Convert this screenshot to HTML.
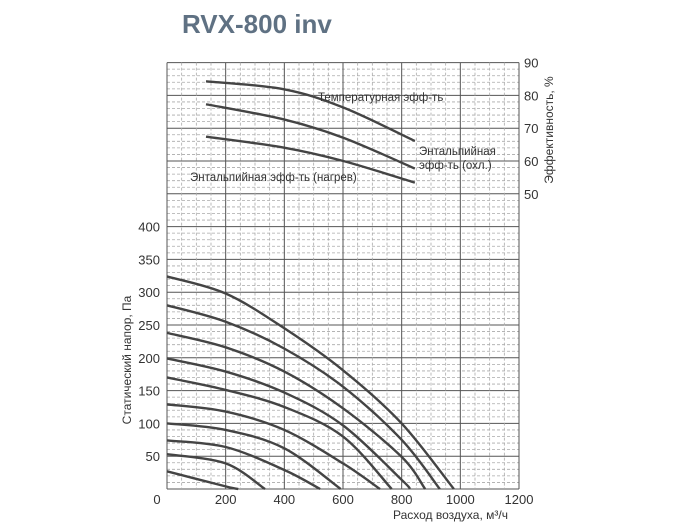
<!DOCTYPE html>
<html><head><meta charset="utf-8"><style>
body{margin:0;background:#fff;width:700px;height:525px;overflow:hidden}
svg{display:block;font-family:"Liberation Sans","DejaVu Sans",sans-serif}
</style></head><body>
<svg id="chart" width="700" height="525" viewBox="0 0 700 525">
<text x="182" y="33" font-size="26" font-weight="bold" fill="#5f7183">RVX-800 inv</text>
<g id="grid"></g>
<g id="curves"></g>
<g id="eff"></g>
<g id="axes"></g>
<text x="318" y="101" font-size="11.5" fill="#333">Температурная эфф-ть</text>
<text x="419" y="155" font-size="11.5" fill="#333">Энтальпийная</text>
<text x="419" y="169" font-size="11.5" fill="#333">эфф-ть (охл.)</text>
<text x="190" y="181" font-size="11.5" fill="#333">Энтальпийная эфф-ть (нагрев)</text>
<text x="393" y="519" font-size="12" fill="#333">Расход воздуха, м³/ч</text>
<text transform="translate(131,360) rotate(-90)" text-anchor="middle" font-size="12" fill="#333">Статический напор, Па</text>
<text transform="translate(553,130) rotate(-90)" text-anchor="middle" font-size="12" fill="#333">Эффективность, %</text>
</svg>
<script>
const xTicks=[0,200,400,600,800,1000,1200];
const yTicks=[50,100,150,200,250,300,350,400];
const y2Ticks=[50,60,70,80,90];
const fanFlows=[
[0,200,400,600,800,978],
[0,200,400,600,800,930],
[0,200,400,600,800,880],
[0,200,400,600,800,828],
[0,200,400,600,766],
[0,200,400,600,726],
[0,200,400,592],
[0,200,400,522],
[0,200,334],
[0,200,243]];
const fanPress=[
[324,298,245,181,100,0],
[280,255,214,156,75,0],
[238,216,179,123,49,0],
[199,179,147,97,14,0],
[170,151,125,80,0],
[129,118,90,39,0],
[100,90,62,0],
[74,64,29,0],
[53,39,0],
[27,4,0]];
const effFlows=[133,397,601,845];
const effTemp=[84.3,81.9,76.3,66.1];
const effCool=[77.3,72.7,67.1,57.7];
const effHeat=[67.4,64.1,60,53.4];

const X0=167,X1=519,Y0=489,PPU=0.656;
const xs=v=>X0+v*(X1-X0)/1200;
const ys=p=>Y0-p*PPU;
const yp=e=>ys(e*5+200);
const NS='http://www.w3.org/2000/svg';
function mk(tag,attrs,parent){const e=document.createElementNS(NS,tag);for(const k in attrs)e.setAttribute(k,attrs[k]);parent.appendChild(e);return e;}
const grid=document.getElementById('grid');
for(let p=0;p<=650;p+=10){const solid=p%50===0;
 const l=mk('line',{x1:X0,x2:X1,y1:ys(p),y2:ys(p),stroke:solid?'#555':'#aaa','stroke-width':solid?1:0.8,'stroke-dasharray':solid?'':'3,2'},grid);
 
 }
for(let f=0;f<=1200;f+=50){const solid=f%200===0;
 const l=mk('line',{x1:xs(f),x2:xs(f),y1:ys(650),y2:Y0,stroke:solid?'#555':'#aaa','stroke-width':solid?1:0.8,'stroke-dasharray':solid?'':'3,2'},grid);
 
 }
function path(pts){let d='M'+pts[0][0]+','+pts[0][1];
 for(let i=0;i<pts.length-1;i++){const p0=pts[i-1]||pts[i],p1=pts[i],p2=pts[i+1],p3=pts[i+2]||p2;
  d+=' C'+(p1[0]+(p2[0]-p0[0])/6)+','+(p1[1]+(p2[1]-p0[1])/6)+' '+(p2[0]-(p3[0]-p1[0])/6)+','+(p2[1]-(p3[1]-p1[1])/6)+' '+p2[0]+','+p2[1];}
 return d;}
const cg=document.getElementById('curves');
fanFlows.forEach((fl,i)=>{const pts=fl.map((f,j)=>[xs(f),ys(fanPress[i][j])]);
 const p=mk('path',{d:path(pts),fill:'none',stroke:'#444','stroke-width':2.4},cg);
 
 });
const eg=document.getElementById('eff');
[[effTemp,'temp-efficiency-curve'],[effCool,'enthalpy-cool-curve'],[effHeat,'enthalpy-heat-curve']].forEach(([arr,n])=>{
 const pts=effFlows.map((f,j)=>[xs(f),yp(arr[j])]);
 const p=mk('path',{d:path(pts),fill:'none',stroke:'#444','stroke-width':2.4},eg);
 
 });
const ax=document.getElementById('axes');
xTicks.forEach(v=>{const t=mk('text',{x:v===0?157:xs(v),y:504,'text-anchor':'middle','font-size':13,fill:'#333'},ax);t.textContent=v;
 
 });
yTicks.forEach(v=>{const t=mk('text',{x:160,y:ys(v)+5,'text-anchor':'end','font-size':13,fill:'#333'},ax);t.textContent=v;
 
 });
y2Ticks.forEach(v=>{const t=mk('text',{x:524,y:yp(v)+5,'font-size':13,fill:'#333'},ax);t.textContent=v;
 
 });
</script>
</body></html>
